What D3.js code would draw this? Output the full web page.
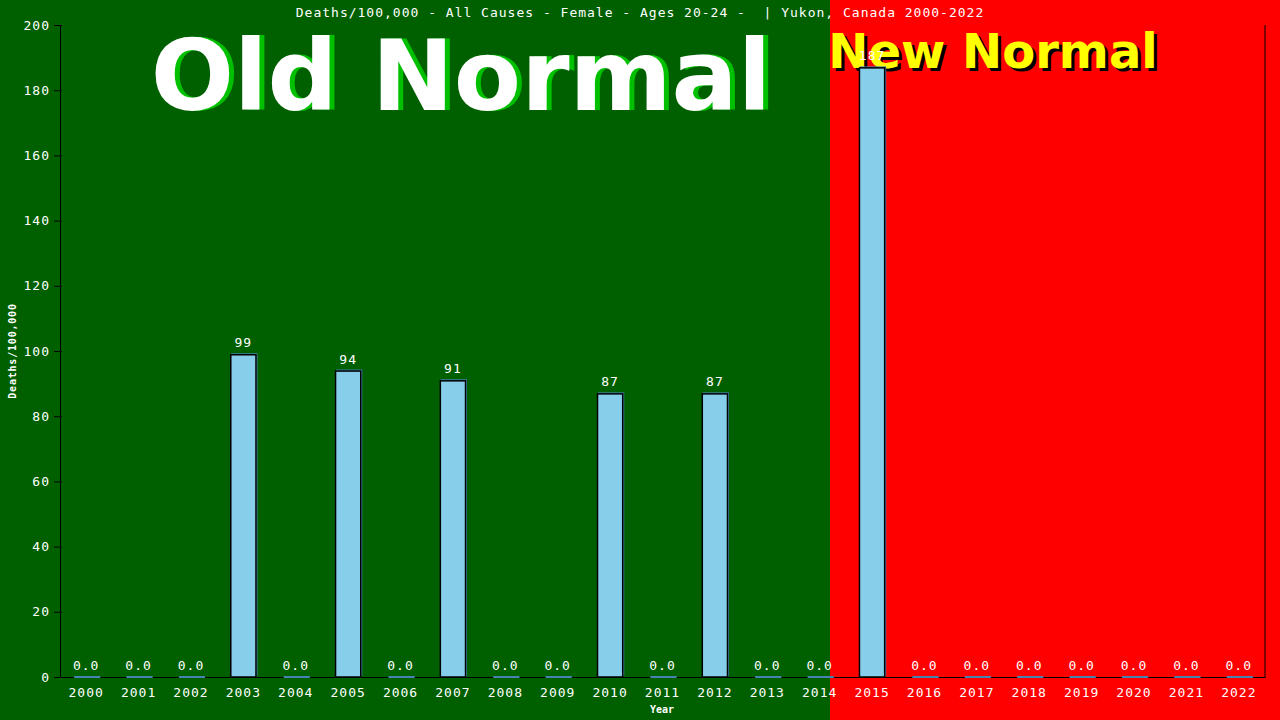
<!DOCTYPE html>
<html>
<head>
<meta charset="utf-8">
<script src="https://cdn.jsdelivr.net/npm/d3@7"></script>
<style>
  body { margin: 0; background: #006000; }
  text { font-family: "DejaVu Sans Mono", monospace; }
</style>
</head>
<body>
<div id="main"></div>
<script>
var years = ["2000","2001","2002","2003","2004","2005","2006","2007","2008","2009","2010",
             "2011","2012","2013","2014","2015","2016","2017","2018","2019","2020","2021","2022"];
var deaths = [0, 0, 0, 99, 0, 94, 0, 91, 0, 0, 87, 0, 87, 0, 0, 187, 0, 0, 0, 0, 0, 0, 0];
var yTicks = [0, 20, 40, 60, 80, 100, 120, 140, 160, 180, 200];
var title = "Deaths/100,000 - All Causes - Female - Ages 20-24 -  | Yukon, Canada 2000-2022";

var width = 1280, height = 720,
    margin = {top: 25, right: 15, bottom: 43, left: 60};

var rows = years.map(function(yr, i) { return {year: yr, value: deaths[i]}; });

var svg = d3.select('#main')
    .append('svg')
    .attr("width", width)
    .attr("height", height);

// backgrounds: old normal green, new normal red
svg.append("rect").attr("x", 0).attr("y", 0).attr("width", width).attr("height", height).attr("fill", "#006000");
svg.append("rect").attr("x", 830).attr("y", 0).attr("width", width - 830).attr("height", height).attr("fill", "#ff0000");

var x = d3.scaleBand()
    .domain(years)
    .range([margin.left, width - margin.right])
    .paddingInner(0.5)
    .paddingOuter(0.25);

var y = d3.scaleLinear()
    .domain([0, 200])
    .range([height - margin.bottom, margin.top]);

// big labels
function shadowText(txt, cx, cy, size, fill, shade, dx, dy) {
    svg.append("text").attr("x", cx + dx).attr("y", cy + dy)
        .attr("text-anchor", "middle")
        .style("font-family", "'DejaVu Sans', Verdana, sans-serif")
        .style("font-weight", "bold").style("font-size", size + "px")
        .attr("fill", shade).text(txt);
    svg.append("text").attr("x", cx).attr("y", cy)
        .attr("text-anchor", "middle")
        .style("font-family", "'DejaVu Sans', Verdana, sans-serif")
        .style("font-weight", "bold").style("font-size", size + "px")
        .attr("fill", fill).text(txt);
}
shadowText("Old Normal", 461, 110, 98, "#ffffff", "#00c000", 5, 0);
shadowText("New Normal", 993, 68, 48, "#ffff00", "#000000", 3, 3);

// axes
var yAxis = d3.axisLeft(y).tickValues(yTicks).tickSize(6).tickSizeOuter(0);
var gy = svg.append("g")
    .attr("transform", "translate(" + margin.left + ",0)")
    .call(yAxis);
gy.selectAll("line").attr("x2", -6).attr("x1", 2);
gy.select(".domain").attr("stroke", "#000");
gy.selectAll("text").attr("fill", "#fff").style("font-size", "13px")
    .style("letter-spacing", "1px").attr("x", -10);

var xAxis = d3.axisBottom(x).tickSize(0).tickSizeOuter(0);
var gx = svg.append("g")
    .attr("transform", "translate(0," + (height - margin.bottom) + ")")
    .call(xAxis);
gx.select(".domain").attr("stroke", "#000");
gx.selectAll("text").attr("fill", "#fff").style("font-size", "13px")
    .style("letter-spacing", "1px").attr("dy", "1.3em");

// right border
svg.append("line")
    .attr("x1", width - margin.right).attr("x2", width - margin.right)
    .attr("y1", margin.top).attr("y2", height - margin.bottom)
    .attr("stroke", "#000");

// bars: steelblue shadow then skyblue bar
var bw = x.bandwidth();
svg.selectAll(".shade").data(rows).enter().append("rect")
    .attr("class", "shade")
    .attr("x", function(d) { return x(d.year) + 1; })
    .attr("y", function(d) { return y(d.value) - 1; })
    .attr("width", bw)
    .attr("height", function(d) { return Math.max(2, y(0) - y(d.value)); })
    .attr("fill", "#4682b4");
svg.selectAll(".bar").data(rows.filter(function(d) { return d.value > 0; })).enter().append("rect")
    .attr("class", "bar")
    .attr("x", function(d) { return x(d.year) + 0.5; })
    .attr("y", function(d) { return y(d.value) + 0.5; })
    .attr("width", bw - 1)
    .attr("height", function(d) { return y(0) - y(d.value) - 0.5; })
    .attr("fill", "#87ceeb")
    .attr("stroke", "#000")
    .attr("stroke-width", 1.5);

// value labels
svg.selectAll(".val").data(rows).enter().append("text")
    .attr("class", "val")
    .attr("x", function(d) { return x(d.year) + bw / 2; })
    .attr("y", function(d) { return y(d.value) - 7; })
    .attr("text-anchor", "middle")
    .attr("fill", "#fff")
    .style("font-size", "13px")
    .style("letter-spacing", "1px")
    .text(function(d) { return d.value > 0 ? d3.format("d")(d.value) : "0.0"; });

// titles
svg.append("text").attr("x", 640).attr("y", 17)
    .attr("text-anchor", "middle").attr("fill", "#fff")
    .attr("xml:space", "preserve")
    .style("white-space", "pre")
    .style("font-size", "13px").style("letter-spacing", "1px")
    .text(title);

svg.append("text")
    .attr("transform", "translate(16," + ((margin.top + height - margin.bottom) / 2) + ") rotate(-90)")
    .attr("text-anchor", "middle").attr("fill", "#fff")
    .style("font-size", "10px").style("font-weight", "bold").style("letter-spacing", "0.8px")
    .text("Deaths/100,000");

svg.append("text").attr("x", 662).attr("y", 713)
    .attr("text-anchor", "middle").attr("fill", "#fff")
    .style("font-size", "10px").style("font-weight", "bold")
    .text("Year");
</script>
</body>
</html>
